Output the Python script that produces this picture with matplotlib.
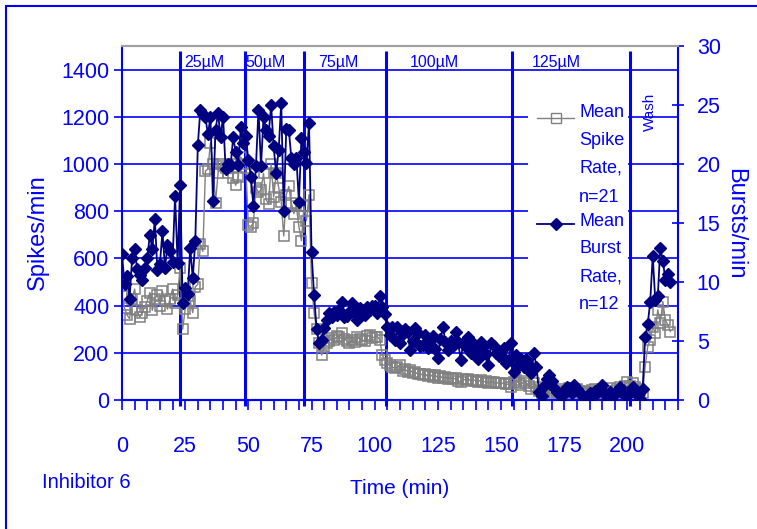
import matplotlib
matplotlib.use("Agg")  # headless backend
import matplotlib.pyplot as plt
import numpy as np
from matplotlib.lines import Line2D
from matplotlib.patches import Rectangle
from matplotlib.ticker import MultipleLocator

plt.rcParams["font.family"] = ["Liberation Sans", "DejaVu Sans"]

BLUE = "#0000FF"
NAVY = "#000080"
GRAY = "#808080"

# one sample per minute
time_min = np.arange(0, 218)

# mean spike rate (spikes/min), n=21
spike_rate = [
    440, 390, 360, 345, 430, 470, 380, 350, 370, 395,
    420, 455, 380, 430, 445, 400, 460, 420, 385, 430,
    470, 410, 445, 560, 300, 385, 440, 420, 370, 480,
    490, 660, 630, 970, 980, 1090, 1000, 835, 960, 1000,
    990, 985, 960, 1000, 940, 910, 945, 1030, 1000, 985,
    740, 735, 750, 900, 880, 890, 960, 850, 830, 1000,
    860, 960, 900, 840, 695, 870, 905, 835, 790, 820,
    735, 675, 820, 760, 870, 495, 370, 300, 240, 190,
    225, 240, 250, 262, 255, 270, 265, 283, 260, 250,
    240, 255, 245, 265, 258, 255, 250, 270, 276, 262,
    268, 269, 255, 191, 170, 156, 150, 140, 134, 140,
    148, 125, 130, 120, 128, 115, 118, 110, 112, 105,
    110, 100, 108, 98, 104, 95, 100, 92, 98, 90,
    95, 88, 92, 80, 78, 88, 84, 90, 80, 86,
    82, 78, 85, 76, 80, 72, 78, 75, 70, 74,
    70, 72, 66, 68, 57, 75, 85, 70, 65, 80,
    72, 60, 45, 70, 55, 40, 30, 35, 45, 50,
    40, 30, 35, 45, 38, 28, 40, 50, 35, 30,
    45, 38, 30, 40, 35, 25, 42, 48, 32, 30,
    45, 35, 40, 50, 38, 30, 45, 55, 40, 60,
    78, 60, 71, 55, 45, 40, 28, 141, 226, 255,
    311, 283, 382, 325, 417, 339, 318, 290,
]

# mean burst rate (bursts/min), n=12
burst_rate = [
    12.4, 9.8, 10.5, 8.6, 12.0, 12.8, 11.1, 10.6, 10.2, 11.2,
    12.0, 14.0, 12.8, 15.3, 11.0, 11.5, 14.3, 11.2, 13.1, 12.6,
    11.7, 17.3, 11.6, 18.2, 8.2, 9.5, 9.0, 12.9, 10.3, 13.5,
    21.6, 24.6, 24.2, 24.0, 22.5, 24.0, 16.9, 22.9, 24.3, 22.3,
    24.0, 19.6, 20.0, 19.9, 22.3, 21.0, 19.9, 23.1, 21.8, 22.4,
    20.3, 18.9, 16.4, 19.8, 24.6, 19.8, 24.0, 22.9, 22.4, 25.0,
    21.5, 19.2, 21.2, 25.2, 16.0, 23.0, 22.9, 20.5, 20.0, 20.5,
    16.8, 22.2, 21.0, 20.1, 23.5, 12.5, 8.9, 6.0, 4.8, 5.1,
    6.1, 6.8, 7.4, 7.0, 7.5, 7.2, 7.6, 8.3, 7.0, 7.1,
    7.5, 8.2, 7.3, 6.8, 7.8, 7.6, 7.2, 7.9, 7.6, 8.0,
    8.0, 7.4, 8.8, 7.9, 7.3, 6.2, 5.5, 6.2, 5.1, 6.2,
    4.8, 5.6, 6.0, 5.8, 4.2, 5.0, 6.1, 5.7, 4.6, 4.7,
    5.5, 4.4, 5.0, 5.4, 4.3, 3.6, 5.2, 6.2, 4.9, 4.2,
    5.0, 4.6, 5.8, 4.9, 3.4, 4.8, 4.5, 5.3, 4.0, 4.8,
    4.2, 3.5, 4.9, 4.5, 3.9, 3.0, 4.8, 4.6, 4.0, 3.7,
    3.8, 4.4, 3.1, 3.4, 4.8, 2.4, 3.8, 3.0, 3.5, 2.8,
    3.5, 3.0, 2.3, 4.0, 2.8, 0.7, 0.3, 1.2, 1.8, 2.1,
    1.6, 1.0, 0.7, 0.5, 0.3, 0.8, 1.1, 1.0, 0.6, 1.3,
    0.9, 0.7, 0.4, 0.2, 0.1, 0.6, 0.3, 0.8, 0.6, 1.0,
    1.3, 0.5, 0.1, 0.7, 0.3, 0.5, 0.8, 1.1, 0.6, 0.4,
    0.3, 0.8, 1.1, 0.6, 0.4, 0.1, 0.9, 5.3, 6.4, 8.3,
    12.2, 8.5, 8.8, 12.9, 11.8, 10.2, 10.7, 10.0,
]

# times when each concentration / wash started (min)
drug_onsets = [23.0, 48.5, 72.2, 104.5, 154.5, 201.2]
conc_labels = ["25µM", "50µM", "75µM", "100µM", "125µM"]
conc_label_x = [32.5, 57.0, 85.5, 123.5, 172.0]

fig = plt.figure(figsize=(7.57, 5.29), dpi=100)
ax = fig.add_axes([122 / 757, 1 - 400 / 529, 556 / 757, 354 / 529])
ax2 = ax.twinx()

# left axis: spikes
ax.set_xlim(0, 220)
ax.set_ylim(0, 1500)
ax.set_yticks(range(0, 1401, 200))
ax.set_xticks(range(0, 201, 25))
ax.xaxis.set_minor_locator(MultipleLocator(5))
ax.grid(axis="y", color=BLUE, linewidth=1.2, zorder=0)
ax.set_axisbelow(True)

ax.vlines(drug_onsets, -25, 1480, colors=BLUE, linewidth=2.2,
          clip_on=False, zorder=1.5)

ax.plot(time_min, spike_rate, color=GRAY, linewidth=1.0, marker="s",
        markersize=6.5, markerfacecolor="none", markeredgecolor=GRAY,
        markeredgewidth=1.1, zorder=2)

ax.tick_params(axis="y", direction="out", length=6, width=1.2, color=BLUE,
               labelcolor=BLUE, labelsize=15.5, pad=3)
ax.tick_params(axis="x", which="both", direction="out", length=7, width=1.2,
               color=BLUE, labelcolor=BLUE, labelsize=15.5, pad=19)

# right axis: bursts
ax2.set_ylim(0, 30)
ax2.set_yticks(range(0, 31, 5))
ax2.plot(time_min, burst_rate, color=NAVY, linewidth=1.3, marker="D",
         markersize=6, markerfacecolor=NAVY, markeredgecolor=NAVY, zorder=3)
ax2.tick_params(axis="y", direction="inout", length=9, width=1.2, color=BLUE,
                labelcolor=BLUE, labelsize=15.5, pad=9)

for a in (ax, ax2):
    a.spines["top"].set_color("#A0A0A0")
    a.spines["top"].set_linewidth(1.5)
    a.spines["left"].set_color(BLUE)
    a.spines["bottom"].set_color(BLUE)
    a.spines["right"].set_color(BLUE)
    for s in ("left", "bottom", "right"):
        a.spines[s].set_linewidth(1.5)
ax.spines["right"].set_visible(False)
ax2.spines["left"].set_visible(False)

# concentration labels
for x, lab in zip(conc_label_x, conc_labels):
    ax.text(x, 1430, lab, ha="center", va="center", fontsize=11.5, color=BLUE)
ax.text(209, 1222, "Wash", rotation=90, ha="center", va="center",
        fontsize=11, color=BLUE)

# legend, drawn by hand so the markers line up with the first text line
ax2.add_patch(Rectangle((0.730, 0.232), 0.18, 0.63, transform=ax2.transAxes,
                        facecolor="white", edgecolor="none", zorder=5))
hx = [0.746, 0.780, 0.813]
ax2.add_line(Line2D(hx, [0.797] * 3, transform=ax2.transAxes, color=GRAY,
                    linewidth=1.0, marker="s", markersize=6.5,
                    markerfacecolor="none", markeredgecolor=GRAY,
                    markevery=[1], zorder=6))
ax2.add_line(Line2D(hx, [0.497] * 3, transform=ax2.transAxes, color=NAVY,
                    linewidth=1.3, marker="D", markersize=6,
                    markevery=[1], zorder=6))
spike_lines = ["Mean", "Spike", "Rate,", "n=21"]
burst_lines = ["Mean", "Burst", "Rate,", "n=12"]
for txt, y in zip(spike_lines + burst_lines,
                  [0.811, 0.734, 0.655, 0.573, 0.504, 0.428, 0.347, 0.271]):
    ax2.text(0.822, y, txt, transform=ax2.transAxes, ha="left", va="center",
             fontsize=13, color=BLUE, zorder=7)

# axis titles and annotation
fig.text(38 / 757, 1 - 232 / 529, "Spikes/min", rotation=90, ha="center",
         va="center", fontsize=17, color=BLUE)
fig.text(735 / 757, 1 - 224 / 529, "Bursts/min", rotation=-90, ha="center",
         va="center", fontsize=17, color=BLUE)
fig.text(400 / 757, 1 - 489 / 529, "Time (min)", ha="center", va="center",
         fontsize=15, color=BLUE)
fig.text(86 / 757, 1 - 482 / 529, "Inhibitor 6", ha="center", va="center",
         fontsize=14.5, color=BLUE)

# outer frame
fig.add_artist(Rectangle((6 / 757, -1), 3, 1 + (1 - 6 / 529),
                         transform=fig.transFigure, fill=False,
                         edgecolor=BLUE, linewidth=1.5))

fig.savefig("out.png", dpi=100)
